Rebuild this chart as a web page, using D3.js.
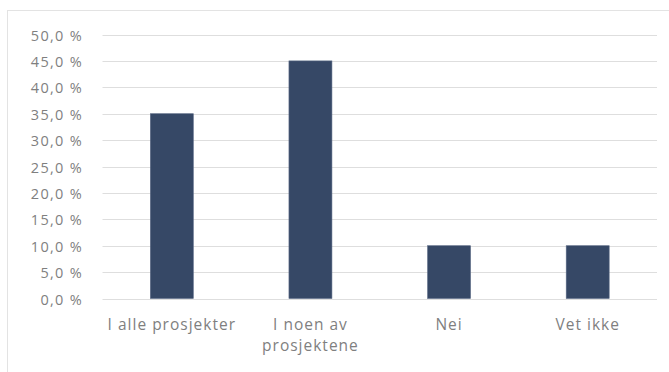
<!DOCTYPE html>
<html>
<head>
<meta charset="utf-8">
<script src="https://cdn.jsdelivr.net/npm/d3@7"></script>
<style>
  html, body { margin: 0; padding: 0; background: #fff; }
  svg { display: block; }
  text { font-family: "Open Sans", Lato, sans-serif; fill: #7f7f7f; }
</style>
</head>
<body>
<svg id="chart" width="669" height="372"></svg>
<script>
// Survey answers and their share of respondents (%)
const categories = ["I alle prosjekter", "I noen av prosjektene", "Nei", "Vet ikke"];
const values = [35, 45, 10, 10];
const tickValues = [0, 5, 10, 15, 20, 25, 30, 35, 40, 45, 50];
const categoryLines = [["I alle prosjekter"], ["I noen av", "prosjektene"], ["Nei"], ["Vet ikke"]];

const svg = d3.select("#chart");
const W = 669, H = 372;
const margin = { left: 102.5, right: 12, top: 34.5, bottom: 73.5 };

// chart-area frame
svg.append("rect")
  .attr("x", 7.5).attr("y", 10.5)
  .attr("width", W).attr("height", H)
  .attr("fill", "#fff").attr("stroke", "#e3e3e3").attr("stroke-width", 1);

const x = d3.scaleBand()
  .domain(categories)
  .range([margin.left, W - margin.right])
  .paddingInner(0.69)
  .paddingOuter(0.345);

const y = d3.scaleLinear()
  .domain([0, 50])
  .range([H - margin.bottom, margin.top]);

const fmt = v => v.toFixed(1).replace(".", ",") + " %";

// horizontal gridlines
svg.append("g")
  .selectAll("line")
  .data(tickValues)
  .join("line")
  .attr("x1", margin.left).attr("x2", W - margin.right)
  .attr("y1", d => Math.round(y(d)) + 0.5)
  .attr("y2", d => Math.round(y(d)) + 0.5)
  .attr("stroke", "#dedede").attr("stroke-width", 1);

// y axis labels
const yAxis = d3.axisLeft(y).tickValues(tickValues).tickFormat(fmt).tickSize(0).tickPadding(0);
const gy = svg.append("g").attr("transform", "translate(83,1)").call(yAxis);
gy.select(".domain").remove();
gy.selectAll("text")
  .attr("font-size", 14.5)
  .attr("letter-spacing", 1.3)
  .attr("fill", "#808080")
  .style("font-family", "'Open Sans', Lato, sans-serif");

// bars
svg.append("g")
  .selectAll("rect")
  .data(values)
  .join("rect")
  .attr("x", (d, i) => x(categories[i]))
  .attr("width", x.bandwidth())
  .attr("y", d => y(d))
  .attr("height", d => y(0) - y(d))
  .attr("fill", "#364866")
  .attr("stroke", "#5b6a85").attr("stroke-width", 0.6);

// category labels
const xLabels = svg.append("g")
  .selectAll("text")
  .data(categories)
  .join("text")
  .attr("text-anchor", "middle")
  .attr("font-size", 15.5)
  .attr("letter-spacing", 1)
  .attr("x", d => x(d) + x.bandwidth() / 2)
  .attr("y", 330);
xLabels.each(function (d, i) {
  d3.select(this).selectAll("tspan")
    .data(categoryLines[i])
    .join("tspan")
    .attr("x", x(d) + x.bandwidth() / 2)
    .attr("dy", (t, j) => j === 0 ? 0 : 21)
    .text(t => t);
});
</script>
</body>
</html>
